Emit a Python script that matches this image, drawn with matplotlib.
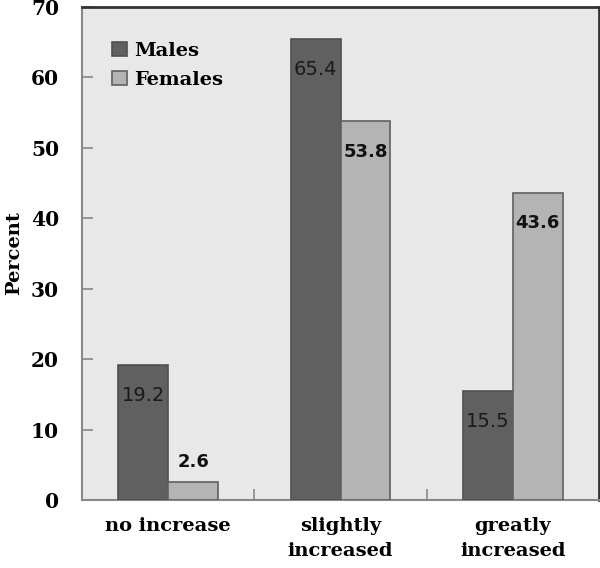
import matplotlib
matplotlib.use("Agg")
import matplotlib.pyplot as plt
import numpy as np

categories = ["no increase", "slightly\nincreased", "greatly\nincreased"]
males = [19.2, 65.4, 15.5]
females = [2.6, 53.8, 43.6]
yticks = [0, 10, 20, 30, 40, 50, 60, 70]

fig = plt.figure(figsize=(6.0, 5.68), dpi=100)
ax = fig.add_axes([82/600, 1-500/568, 517/600, 493/568])
ax.set_facecolor("#e8e8e8")

x = np.arange(len(categories))
w = 0.29
bm = ax.bar(x - w/2, males, w, color="#606060", edgecolor="#505050", linewidth=1.2, label="Males", zorder=3)
bf = ax.bar(x + w/2, females, w, color="#b4b4b4", edgecolor="#606060", linewidth=1.2, label="Females", zorder=3)

serif = dict(fontfamily="DejaVu Serif", fontweight="bold", fontsize=14.5)
ax.set_xlim(-0.5, 2.5)
ax.set_ylim(0, 70)
ax.set_yticks(yticks)
ax.set_yticklabels([str(t) for t in yticks], **serif)
ax.set_xticks(x)
ax.set_xticklabels(categories, fontfamily="DejaVu Serif", fontweight="bold", fontsize=14, linespacing=1.55)
ax.set_xticks([0.5, 1.5], minor=True)
ax.tick_params(axis="x", which="major", length=0, pad=12)
ax.tick_params(axis="x", which="minor", direction="in", length=8, color="#888888", width=1.2)
ax.tick_params(axis="y", direction="in", length=8, color="#888888", width=1.2, pad=16.5)
ax.set_ylabel("Percent", fontfamily="DejaVu Serif", fontweight="bold", fontsize=14)
ax.yaxis.set_label_coords(-0.114, 0.5)

for s in ["left", "bottom"]:
    ax.spines[s].set_color("#888888")
    ax.spines[s].set_linewidth(1.5)
for s in ["top", "right"]:
    ax.spines[s].set_color("#333333")
    ax.spines[s].set_linewidth(2)

for rect, v in zip(bm, males):
    ax.annotate(f"{v}", (rect.get_x() + rect.get_width()/2, v), xytext=(0, -22),
                textcoords="offset points", ha="center", va="center",
                fontfamily="DejaVu Sans", fontsize=14, color="#1a1a1a", zorder=4)
for rect, v in zip(bf, females):
    off = 14 if v < 10 else -22
    ax.annotate(f"{v}", (rect.get_x() + rect.get_width()/2, v), xytext=(0, off),
                textcoords="offset points", ha="center", va="center",
                fontfamily="DejaVu Sans", fontweight="bold", fontsize=13, color="#111111", zorder=4)

leg = ax.legend(loc="upper left", bbox_to_anchor=(0.058, 0.929), frameon=False,
                borderaxespad=0, borderpad=0,
                prop={"family": "DejaVu Serif", "weight": "bold", "size": 14},
                handlelength=0.75, handleheight=0.75, handletextpad=0.4, labelspacing=0.55)

fig.savefig("out.png", dpi=100, facecolor="white")
